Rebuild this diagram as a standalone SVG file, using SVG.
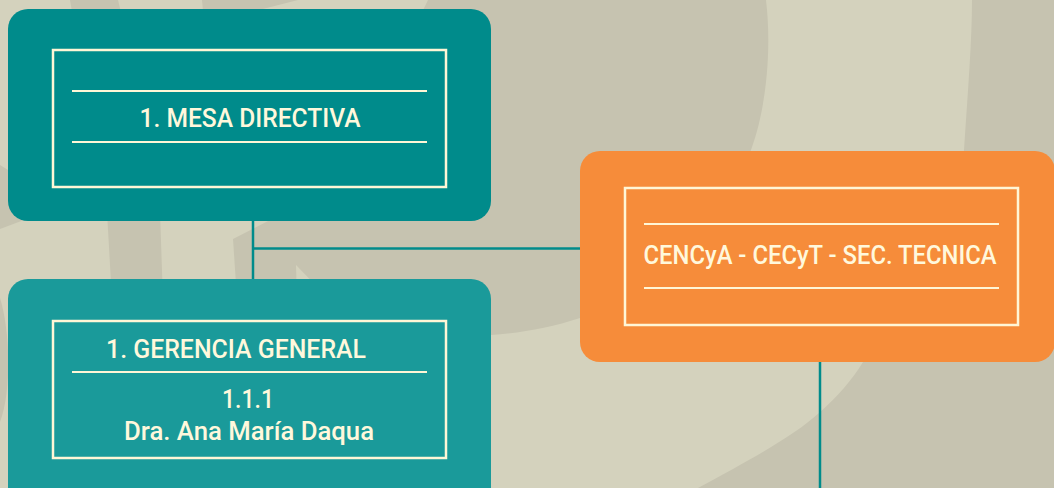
<svg xmlns="http://www.w3.org/2000/svg" width="1054" height="488" viewBox="0 0 1054 488">
<style>
.bgd{fill:#C6C3B0}
.frame{fill:none;stroke:#FFF6D6;stroke-width:2.5}
.rule{stroke:#FFF6D6;stroke-width:2.2}
.lbl{font-family:Roboto,"Liberation Sans",sans-serif;font-weight:500;font-size:25.5px;fill:#FFF8DC}
.conn{stroke:#008B8B;stroke-width:2.5;fill:none}
</style>
<g id="background">
<rect x="0" y="0" width="1054" height="488" fill="#D4D2BD"/>
<path class="bgd" d="M70,0 L118,0 C135,70 152,140 160,212 L163,300 L112,300 L107,212 C95,140 82,70 70,0 Z"/>
<path class="bgd" d="M202,0 L298,0 L259,10 C240,50 225,90 215,130 C210,90 206,45 202,0 Z"/>
<path class="bgd" d="M428,0 L766,0 C772,50 766,110 751,150 C720,230 650,300 580,318 C550,328 520,333 491,335 L300,340 L236,284 L233,239 L270,220 C330,150 400,60 428,0 Z"/>
<path fill="#D4D2BD" d="M296,265 L297,300 L330,300 Z"/>
<path class="bgd" d="M972,0 L1054,0 L1054,488 L698,488 C750,460 795,435 819,413 C838,396 852,380 863,362 C925,285 958,220 964,150 C968,90 972,40 972,0 Z"/>
<path class="bgd" d="M0,165 L8,170 L40,214 L0,229 Z"/>
<path class="bgd" d="M0,298 C10,330 12,390 0,422 Z"/>
</g>
<g id="connectors">
<line class="conn" x1="253" y1="218" x2="253" y2="281"/>
<line class="conn" x1="253" y1="248.5" x2="582" y2="248.5"/>
<line class="conn" x1="820" y1="360" x2="820" y2="488"/>
</g>
<g id="mesa-directiva">
<rect x="8" y="9" width="483" height="212" rx="20" fill="#008B8B"/>
<rect class="frame" x="53" y="50" width="393" height="137"/>
<line class="rule" x1="72" y1="91" x2="427" y2="91"/>
<line class="rule" x1="72" y1="142" x2="427" y2="142"/>
<text class="lbl" x="250" y="127" text-anchor="middle" textLength="221" lengthAdjust="spacingAndGlyphs">1. MESA DIRECTIVA</text>
</g>
<g id="gerencia-general">
<rect x="8" y="279" width="483" height="230" rx="20" fill="#1A9A9A"/>
<rect class="frame" x="53" y="321" width="393" height="137"/>
<line class="rule" x1="72" y1="372" x2="427" y2="372"/>
<text class="lbl" x="106" y="358" textLength="260" lengthAdjust="spacingAndGlyphs">1. GERENCIA GENERAL</text>
<text class="lbl" x="248" y="408" text-anchor="middle" textLength="52" lengthAdjust="spacingAndGlyphs">1.1.1</text>
<text class="lbl" x="249" y="440" text-anchor="middle" textLength="250" lengthAdjust="spacingAndGlyphs">Dra. Ana María Daqua</text>
</g>
<g id="cencya">
<rect x="580" y="151" width="475" height="211" rx="20" fill="#F68C3A"/>
<rect class="frame" x="625" y="188" width="393" height="137"/>
<line class="rule" x1="644" y1="224" x2="999" y2="224"/>
<line class="rule" x1="644" y1="288" x2="999" y2="288"/>
<text class="lbl" x="820" y="264" text-anchor="middle" textLength="353" lengthAdjust="spacingAndGlyphs">CENCyA - CECyT - SEC. TECNICA</text>
</g>
</svg>
